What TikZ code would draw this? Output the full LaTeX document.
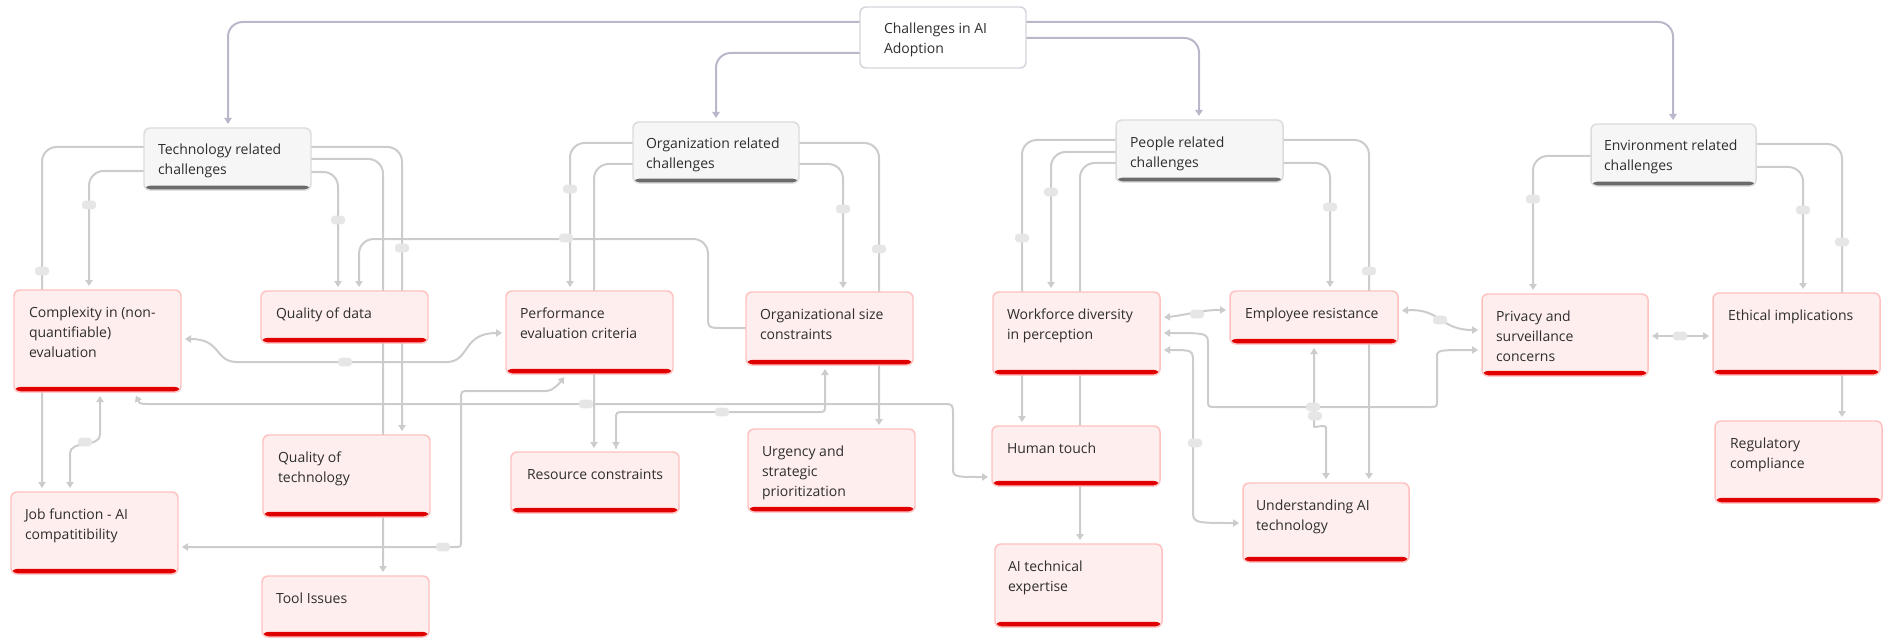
\documentclass[tikz,border=0pt]{standalone}
\usepackage{fontspec}
\setmainfont{Open Sans}
\usetikzlibrary{arrows.meta,calc}
\definecolor{lineC}{HTML}{CCCCCC}
\definecolor{rootC}{HTML}{B8B8CA}
\definecolor{leafFill}{HTML}{FFEEEE}
\definecolor{leafBorder}{HTML}{FFC0C0}
\definecolor{leafBar}{HTML}{E10000}
\definecolor{catFill}{HTML}{F6F6F6}
\definecolor{catBorder}{HTML}{DCDCDC}
\definecolor{catBar}{HTML}{6B6B6B}
\definecolor{rootBorder}{HTML}{D4D4DC}
\definecolor{txtC}{HTML}{2E2E2E}
\definecolor{mkC}{HTML}{E6E6E6}
\pgfdeclarelayer{bg}
\pgfsetlayers{bg,main}
\tikzset{
 basebox/.style={rectangle, rounded corners=4.5pt, inner sep=0pt, outer sep=0pt, line width=1.1pt},
 leafbox/.style={basebox, fill=leafFill, draw=leafBorder, path picture={\fill[leafBar] ([yshift=3.8pt]path picture bounding box.south west) rectangle (path picture bounding box.south east);}},
 catbox/.style={basebox, fill=catFill, draw=catBorder, path picture={\fill[catBar] ([yshift=3.2pt]path picture bounding box.south west) rectangle (path picture bounding box.south east);}},
 rootbox/.style={basebox, fill=white, draw=rootBorder},
 txt/.style={inner sep=0pt, outer sep=0pt, align=left, text=txtC, font=\fontsize{10.5pt}{15pt}\selectfont},
 con/.style={draw=lineC, line width=1.5pt, rounded corners=11pt},
 rcon/.style={con, draw=rootC},
 tip/.style={-{Triangle[width=5.5pt,length=4.5pt]}, shorten >=3pt},
 both/.style={{Triangle[width=5.5pt,length=4.5pt]}-{Triangle[width=5.5pt,length=4.5pt]}, shorten >=3pt, shorten <=3pt},
 mk/.style={fill=mkC, rounded corners=2.5pt, minimum width=10.5pt, minimum height=6.5pt, inner sep=0pt},
}
\newcommand\mkbox[8]{%
  \node[#1, minimum width=#5*0.75pt, minimum height=#6*0.75pt, anchor=north west] (#2) at (#3,#4) {};
  \node[txt, anchor=north west] (#2t) at ([xshift=#7*0.75pt, yshift=-27*0.75pt+11pt]#2.north west) {\rule{0pt}{11pt}#8};
}
\begin{document}
\begin{tikzpicture}[x=0.75pt,y=-0.75pt]
\useasboundingbox (0,0) rectangle (1883,638);
% category and root boxes
\mkbox{rootbox}{root}{860}{7}{166}{61}{24}{Challenges in AI\\Adoption}
\mkbox{catbox}{tech}{144}{128}{167}{62}{14}{Technology related\\challenges}
\mkbox{catbox}{org}{633}{122}{166}{61}{13}{Organization related\\challenges}
\mkbox{catbox}{ppl}{1116}{120}{167}{62}{14}{People related\\challenges}
\mkbox{catbox}{env}{1591}{124}{165}{62}{13}{Environment related\\challenges}
% leaves
\mkbox{leafbox}{cx}{14}{290}{167}{102}{15}{Complexity in (non-\\quantifiable)\\evaluation}
\mkbox{leafbox}{qd}{261}{291}{167}{52}{15}{Quality of data}
\mkbox{leafbox}{pe}{506}{291}{167}{83}{14}{Performance\\evaluation criteria}
\mkbox{leafbox}{os}{746}{292}{167}{73}{14}{Organizational size\\constraints}
\mkbox{leafbox}{wf}{993}{292}{167}{83}{14}{Workforce diversity\\in perception}
\mkbox{leafbox}{er}{1230}{291}{168}{53}{15}{Employee resistance}
\mkbox{leafbox}{pv}{1482}{294}{166}{82}{14}{Privacy and\\surveillance\\concerns}
\mkbox{leafbox}{ei}{1713}{293}{167}{82}{15}{Ethical implications}
\mkbox{leafbox}{qt}{263}{435}{167}{82}{15}{Quality of\\technology}
\mkbox{leafbox}{jf}{11}{492}{167}{82}{14}{Job function - AI\\compatitibility}
\mkbox{leafbox}{ti}{262}{576}{167}{61}{14}{Tool Issues}
\mkbox{leafbox}{rc}{511}{452}{168}{61}{16}{Resource constraints}
\mkbox{leafbox}{ur}{748}{429}{167}{83}{14}{Urgency and\\strategic\\prioritization}
\mkbox{leafbox}{ht}{992}{426}{168}{60}{15}{Human touch}
\mkbox{leafbox}{ai}{995}{544}{167}{83}{13}{AI technical\\expertise}
\mkbox{leafbox}{ua}{1243}{483}{166}{79}{13}{Understanding AI\\technology}
\mkbox{leafbox}{rg}{1715}{421}{167}{82}{15}{Regulatory\\compliance}
\begin{pgfonlayer}{bg}
% root connectors
\draw[rcon,tip] (root.west |- 0,22) -- (228,22) -- (tech.north -| 228,0);
\draw[rcon,tip] (root.west |- 0,53) -- (716,53) -- (org.north -| 716,0);
\draw[rcon,tip] (root.east |- 0,38) -- (1199,38) -- (ppl.north -| 1199,0);
\draw[rcon,tip] (root.east |- 0,22) -- (1673,22) -- (env.north -| 1673,0);
% technology
\draw[con,tip] (tech.west |- 0,147) -- (42,147) -- (jf.north -| 42,0);
\draw[con,tip] (tech.west |- 0,171) -- (89,171) -- (cx.north -| 89,0);
\draw[con,tip] (tech.east |- 0,147) -- (402,147) -- (qt.north -| 402,0);
\draw[con,tip] (tech.east |- 0,159) -- (383,159) -- (ti.north -| 383,0);
\draw[con,tip] (tech.east |- 0,172) -- (338,172) -- (qd.north -| 338,0);
% organization
\draw[con,tip] (org.west |- 0,143) -- (570,143) -- (pe.north -| 570,0);
\draw[con,tip] (org.west |- 0,164) -- (594,164) -- (rc.north -| 594,0);
\draw[con,tip] (org.east |- 0,164) -- (843,164) -- (os.north -| 843,0);
\draw[con,tip] (org.east |- 0,143) -- (879,143) -- (ur.north -| 879,0);
% people
\draw[con,tip] (ppl.west |- 0,140) -- (1022,140) -- (ht.north -| 1022,0);
\draw[con,tip] (ppl.west |- 0,152) -- (1051,152) -- (wf.north -| 1051,0);
\draw[con,tip] (ppl.west |- 0,163) -- (1080,163) -- (ai.north -| 1080,0);
\draw[con,tip] (ppl.east |- 0,163) -- (1330,163) -- (er.north -| 1330,0);
\draw[con,tip] (ppl.east |- 0,140) -- (1369,140) -- (ua.north -| 1369,0);
% environment
\draw[con,tip] (env.west |- 0,156) -- (1533,156) -- (pv.north -| 1533,0);
\draw[con,tip] (env.east |- 0,167) -- (1803,167) -- (ei.north -| 1803,0);
\draw[con,tip] (env.east |- 0,144) -- (1842,144) -- (rg.north -| 1842,0);
% cross links
\draw[con,both] (qd.north -| 359,0) -- (359,239) -- (708,239) -- (708,300) .. controls (708,328) .. (738,328) -- (os.west |- 0,328);
\draw[con,both] (cx.east |- 0,339) .. controls (222,339) and (214,362) .. (252,362) -- (432,362) .. controls (470,362) and (462,333) .. (pe.west |- 0,333);
\draw[con,both] (cx.south -| 134,0) .. controls (140,404) .. (165,404) -- (928,404) .. controls (953,404) .. (953,430) -- (953,452) .. controls (953,477) .. (ht.west |- 0,477);
\draw[con,both] (jf.north -| 70,0) -- (70,468) .. controls (70,440) and (100,448) .. (100,420) -- (cx.south -| 100,0);
\draw[con,both] (jf.east |- 0,547) -- (440,547) .. controls (461,547) .. (461,526) -- (461,414) .. controls (461,391) .. (484,391) -- (532,391) .. controls (552,391) and (558,385) .. (pe.south -| 567,0);
\draw[con,both] (os.south -| 825,0) -- (825,390) .. controls (825,412) .. (803,412) -- (640,412) .. controls (616,412) .. (616,434) -- (rc.north -| 616,0);
\draw[con,both] (wf.east |- 0,318) .. controls (1192,314) and (1200,310) .. (er.west |- 0,310);
\draw[con,both] (wf.east |- 0,333) .. controls (1208,333) .. (1208,360) -- (1208,385) .. controls (1208,407) .. (1230,407) -- (1415,407) .. controls (1437,407) .. (1437,385) -- (1437,372) .. controls (1437,350) .. (pv.west |- 0,350);
\draw[con,both] (wf.east |- 0,350) .. controls (1193,350) .. (1193,378) -- (1193,495) .. controls (1193,523) .. (ua.west |- 0,523);
\draw[con,both] (er.east |- 0,311) .. controls (1440,308) and (1440,330) .. (pv.west |- 0,330);
\draw[con,both] (er.south -| 1314,0) -- (1314,412) .. controls (1314,428) and (1326,424) .. (1326,442) -- (ua.north -| 1326,0);
\draw[con,both] (pv.east |- 0,336) -- (ei.west |- 0,336);
% label markers
\foreach \mx/\my [count=\i] in {42/271, 89/205, 338/220, 402/248, 570/189, 843/209, 879/249, 1022/238, 1051/192, 1330/207, 1369/271, 1533/199, 1803/210, 1842/242, 566/238, 345/362, 586/404, 85/442, 443/547, 722/412, 1197/314, 1313/407, 1195/443, 1440/320, 1315/416, 1680/336}
  \node[mk] (m\i) at (\mx,\my) {};
\end{pgfonlayer}
\end{tikzpicture}
\end{document}
